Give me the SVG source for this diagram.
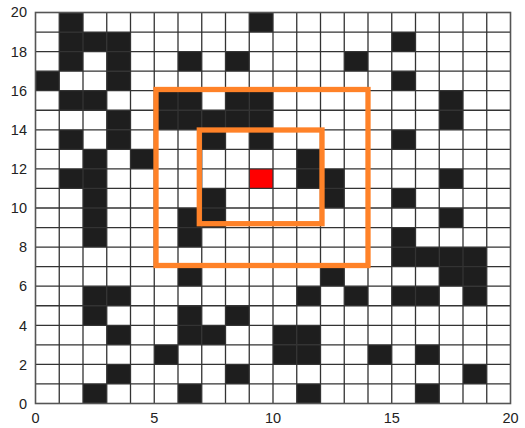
<svg xmlns="http://www.w3.org/2000/svg" width="525" height="428" viewBox="0 0 525 428">
<style>
.lbl{font-family:"Liberation Sans",Arial,sans-serif;font-size:14.5px;fill:#222}
.blk{fill:#1e1e1e}
.grid{fill:none;stroke:#333;stroke-width:1.3;vector-effect:non-scaling-stroke}
.frame{fill:none;stroke:#555;stroke-width:1.6}
.hl{fill:none;stroke:#ff8228;stroke-width:5.3}
</style>
<rect width="525" height="428" fill="#fff"/>
<g id="cells" transform="translate(35.5,403.5) scale(23.75,-19.55)">
<g class="blk">
<rect x="1" y="19" width="1" height="1"/><rect x="9" y="19" width="1" height="1"/>
<rect x="1" y="18" width="1" height="1"/><rect x="2" y="18" width="1" height="1"/><rect x="3" y="18" width="1" height="1"/><rect x="15" y="18" width="1" height="1"/>
<rect x="1" y="17" width="1" height="1"/><rect x="3" y="17" width="1" height="1"/><rect x="6" y="17" width="1" height="1"/><rect x="8" y="17" width="1" height="1"/><rect x="13" y="17" width="1" height="1"/>
<rect x="0" y="16" width="1" height="1"/><rect x="3" y="16" width="1" height="1"/><rect x="15" y="16" width="1" height="1"/>
<rect x="1" y="15" width="1" height="1"/><rect x="2" y="15" width="1" height="1"/><rect x="5" y="15" width="1" height="1"/><rect x="6" y="15" width="1" height="1"/><rect x="8" y="15" width="1" height="1"/><rect x="9" y="15" width="1" height="1"/><rect x="17" y="15" width="1" height="1"/>
<rect x="3" y="14" width="1" height="1"/><rect x="5" y="14" width="1" height="1"/><rect x="6" y="14" width="1" height="1"/><rect x="7" y="14" width="1" height="1"/><rect x="8" y="14" width="1" height="1"/><rect x="9" y="14" width="1" height="1"/><rect x="17" y="14" width="1" height="1"/>
<rect x="1" y="13" width="1" height="1"/><rect x="3" y="13" width="1" height="1"/><rect x="7" y="13" width="1" height="1"/><rect x="9" y="13" width="1" height="1"/><rect x="15" y="13" width="1" height="1"/>
<rect x="2" y="12" width="1" height="1"/><rect x="4" y="12" width="1" height="1"/><rect x="11" y="12" width="1" height="1"/>
<rect x="1" y="11" width="1" height="1"/><rect x="2" y="11" width="1" height="1"/><rect x="11" y="11" width="1" height="1"/><rect x="12" y="11" width="1" height="1"/><rect x="17" y="11" width="1" height="1"/>
<rect x="2" y="10" width="1" height="1"/><rect x="7" y="10" width="1" height="1"/><rect x="12" y="10" width="1" height="1"/><rect x="15" y="10" width="1" height="1"/>
<rect x="2" y="9" width="1" height="1"/><rect x="6" y="9" width="1" height="1"/><rect x="7" y="9" width="1" height="1"/><rect x="17" y="9" width="1" height="1"/>
<rect x="2" y="8" width="1" height="1"/><rect x="6" y="8" width="1" height="1"/><rect x="15" y="8" width="1" height="1"/>
<rect x="15" y="7" width="1" height="1"/><rect x="16" y="7" width="1" height="1"/><rect x="17" y="7" width="1" height="1"/><rect x="18" y="7" width="1" height="1"/>
<rect x="6" y="6" width="1" height="1"/><rect x="12" y="6" width="1" height="1"/><rect x="17" y="6" width="1" height="1"/><rect x="18" y="6" width="1" height="1"/>
<rect x="2" y="5" width="1" height="1"/><rect x="3" y="5" width="1" height="1"/><rect x="11" y="5" width="1" height="1"/><rect x="13" y="5" width="1" height="1"/><rect x="15" y="5" width="1" height="1"/><rect x="16" y="5" width="1" height="1"/><rect x="18" y="5" width="1" height="1"/>
<rect x="2" y="4" width="1" height="1"/><rect x="6" y="4" width="1" height="1"/><rect x="8" y="4" width="1" height="1"/>
<rect x="3" y="3" width="1" height="1"/><rect x="6" y="3" width="1" height="1"/><rect x="7" y="3" width="1" height="1"/><rect x="10" y="3" width="1" height="1"/><rect x="11" y="3" width="1" height="1"/>
<rect x="5" y="2" width="1" height="1"/><rect x="10" y="2" width="1" height="1"/><rect x="11" y="2" width="1" height="1"/><rect x="14" y="2" width="1" height="1"/><rect x="16" y="2" width="1" height="1"/>
<rect x="3" y="1" width="1" height="1"/><rect x="8" y="1" width="1" height="1"/><rect x="18" y="1" width="1" height="1"/>
<rect x="2" y="0" width="1" height="1"/><rect x="6" y="0" width="1" height="1"/><rect x="11" y="0" width="1" height="1"/><rect x="16" y="0" width="1" height="1"/>
</g>
<rect id="target" x="9" y="11" width="1" height="1" fill="#ff0000"/>
<path class="grid" d="M1 0V20M2 0V20M3 0V20M4 0V20M5 0V20M6 0V20M7 0V20M8 0V20M9 0V20M10 0V20M11 0V20M12 0V20M13 0V20M14 0V20M15 0V20M16 0V20M17 0V20M18 0V20M19 0V20M0 1H20M0 2H20M0 3H20M0 4H20M0 5H20M0 6H20M0 7H20M0 8H20M0 9H20M0 10H20M0 11H20M0 12H20M0 13H20M0 14H20M0 15H20M0 16H20M0 17H20M0 18H20M0 19H20"/>
</g>
<rect class="frame" x="35.5" y="12.5" width="475" height="391"/>
<g id="windows">
<rect id="outer" class="hl" x="156" y="89.5" width="212" height="176"/>
<rect id="inner" class="hl" x="199.3" y="130" width="122.7" height="93.7"/>
</g>
<g id="xaxis" class="lbl" text-anchor="middle">
<text x="35.5" y="422.5">0</text>
<text x="154.25" y="422.5">5</text>
<text x="273" y="422.5">10</text>
<text x="391.75" y="422.5">15</text>
<text x="510.5" y="422.5">20</text>
</g>
<g id="yaxis" class="lbl" text-anchor="end">
<text x="27" y="408.7">0</text>
<text x="27" y="369.6">2</text>
<text x="27" y="330.5">4</text>
<text x="27" y="291.4">6</text>
<text x="27" y="252.3">8</text>
<text x="27" y="213.2">10</text>
<text x="27" y="174.1">12</text>
<text x="27" y="135">14</text>
<text x="27" y="95.9">16</text>
<text x="27" y="56.8">18</text>
<text x="27" y="17.2">20</text>
</g>
</svg>
